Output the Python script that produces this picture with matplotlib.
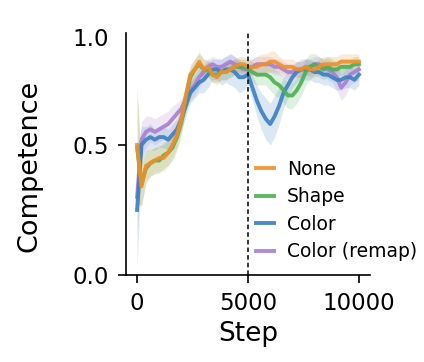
import matplotlib
matplotlib.use("Agg")
import matplotlib.pyplot as plt
import numpy as np

steps = list(range(0, 10001, 200))

none_mean = [0.50, 0.34, 0.42, 0.43, 0.44, 0.45, 0.45, 0.47, 0.50, 0.54,
             0.60, 0.69, 0.77, 0.79, 0.82, 0.79, 0.80, 0.77, 0.76, 0.78,
             0.78, 0.79, 0.80, 0.81, 0.81, 0.80, 0.80, 0.80, 0.81, 0.81,
             0.82, 0.82, 0.81, 0.80, 0.80, 0.80, 0.79, 0.79, 0.80, 0.79,
             0.79, 0.80, 0.81, 0.81, 0.81, 0.81, 0.82, 0.82, 0.82, 0.82, 0.82]
shape_mean = [0.49, 0.35, 0.41, 0.43, 0.44, 0.44, 0.46, 0.47, 0.49, 0.53,
              0.59, 0.68, 0.76, 0.79, 0.81, 0.79, 0.79, 0.77, 0.77, 0.78,
              0.78, 0.79, 0.80, 0.80, 0.80, 0.79, 0.78, 0.77, 0.77, 0.77,
              0.76, 0.74, 0.73, 0.71, 0.69, 0.69, 0.71, 0.74, 0.78, 0.80,
              0.81, 0.80, 0.79, 0.80, 0.79, 0.79, 0.80, 0.80, 0.80, 0.81, 0.81]
color_mean = [0.25, 0.50, 0.52, 0.53, 0.52, 0.53, 0.53, 0.52, 0.54, 0.56,
              0.60, 0.65, 0.70, 0.72, 0.74, 0.75, 0.77, 0.79, 0.79, 0.78,
              0.79, 0.79, 0.78, 0.76, 0.76, 0.77, 0.72, 0.67, 0.63, 0.60,
              0.58, 0.61, 0.65, 0.70, 0.73, 0.76, 0.78, 0.79, 0.79, 0.79,
              0.78, 0.78, 0.77, 0.77, 0.76, 0.75, 0.75, 0.76, 0.76, 0.75, 0.77]
remap_mean = [0.30, 0.52, 0.55, 0.56, 0.55, 0.56, 0.57, 0.58, 0.60, 0.62,
              0.64, 0.68, 0.71, 0.73, 0.76, 0.78, 0.80, 0.81, 0.80, 0.80,
              0.81, 0.82, 0.81, 0.80, 0.79, 0.79, 0.80, 0.81, 0.81, 0.81,
              0.81, 0.80, 0.80, 0.79, 0.78, 0.78, 0.79, 0.79, 0.80, 0.80,
              0.81, 0.81, 0.80, 0.79, 0.78, 0.76, 0.72, 0.74, 0.77, 0.78, 0.79]

none_err = [0.22, 0.08, 0.06, 0.05, 0.05, 0.05, 0.05, 0.05, 0.05, 0.05,
            0.05, 0.05, 0.04, 0.04, 0.04, 0.04, 0.03, 0.03, 0.03, 0.03,
            0.03, 0.03, 0.03, 0.03, 0.03, 0.03, 0.03, 0.04, 0.04, 0.04,
            0.04, 0.04, 0.03, 0.03, 0.03, 0.03, 0.03, 0.03, 0.03, 0.03,
            0.03, 0.03, 0.03, 0.03, 0.03, 0.03, 0.03, 0.03, 0.03, 0.03, 0.03]
shape_err = [0.22, 0.08, 0.06, 0.05, 0.05, 0.05, 0.05, 0.05, 0.05, 0.05,
             0.05, 0.05, 0.04, 0.04, 0.04, 0.04, 0.03, 0.03, 0.03, 0.03,
             0.03, 0.03, 0.03, 0.03, 0.03, 0.04, 0.04, 0.04, 0.04, 0.04,
             0.05, 0.05, 0.05, 0.05, 0.05, 0.05, 0.05, 0.05, 0.05, 0.05,
             0.04, 0.04, 0.04, 0.04, 0.04, 0.03, 0.03, 0.03, 0.03, 0.03, 0.03]
color_err = [0.22, 0.07, 0.05, 0.05, 0.04, 0.04, 0.04, 0.04, 0.04, 0.04,
             0.04, 0.04, 0.04, 0.04, 0.04, 0.05, 0.05, 0.04, 0.04, 0.05,
             0.05, 0.06, 0.06, 0.06, 0.05, 0.04, 0.05, 0.06, 0.07, 0.08,
             0.08, 0.08, 0.07, 0.06, 0.05, 0.04, 0.04, 0.04, 0.04, 0.04,
             0.04, 0.04, 0.04, 0.04, 0.04, 0.04, 0.04, 0.04, 0.04, 0.04, 0.04]
remap_err = [0.15, 0.07, 0.06, 0.05, 0.05, 0.05, 0.05, 0.05, 0.05, 0.04,
             0.04, 0.04, 0.04, 0.04, 0.04, 0.03, 0.03, 0.03, 0.03, 0.03,
             0.03, 0.03, 0.03, 0.03, 0.03, 0.03, 0.03, 0.03, 0.03, 0.03,
             0.03, 0.03, 0.03, 0.03, 0.03, 0.03, 0.03, 0.03, 0.03, 0.03,
             0.03, 0.03, 0.03, 0.04, 0.04, 0.05, 0.05, 0.05, 0.04, 0.04, 0.04]

labels = ["None", "Shape", "Color", "Color (remap)"]
colors = ["#f28e2b", "#4caf50", "#3a7fc1", "#a77fd2"]
means = [none_mean, shape_mean, color_mean, remap_mean]
errs = [none_err, shape_err, color_err, remap_err]
zorders = [5, 4, 3, 2]

fig = plt.figure(figsize=(4.24, 3.62), dpi=100)
ax = fig.add_axes([126/424, 1-275/362, (370-126)/424, (275-33)/362])

x = np.array(steps)
handles = {}
for lab, c, m, e, z in zip(labels, colors, means, errs, zorders):
    m = np.array(m); e = np.array(e)
    ax.fill_between(x, m - e, m + e, color=c, alpha=0.18, lw=0, zorder=1)
    h, = ax.plot(x, m, color=c, lw=2.8, alpha=0.9, zorder=z, label=lab)
    handles[lab] = h

ax.axvline(5000, color="black", lw=1.1, ls=(0, (3, 2)), zorder=6)

ax.set_xlim(-500, 10500)
ax.set_ylim(0, 0.93)
ax.set_xticks([0, 5000, 10000])
ax.set_yticks([0, 0.5])
ax.set_yticklabels(["0.0", "0.5"])
ax.tick_params(labelsize=16.5, length=6, width=1.2, pad=6)
for s in ["top", "right"]:
    ax.spines[s].set_visible(False)
for s in ["left", "bottom"]:
    ax.spines[s].set_linewidth(1.2)

fig.text(109/424, 1-40/362, "1.0", ha="right", va="center", fontsize=16.5)
fig.text(30/424, 1-166/362, "Competence", rotation=90, ha="center", va="center", fontsize=19.5)
fig.text(248/424, 1-334/362, "Step", ha="center", va="center", fontsize=19)

leg = fig.legend([handles[l] for l in labels], labels, loc="upper left",
                 bbox_to_anchor=(256/424, 1-160/362), frameon=False,
                 fontsize=13.5, handlelength=0.95, handletextpad=0.7,
                 labelspacing=0.45, borderpad=0, borderaxespad=0)
for lh in leg.get_lines():
    lh.set_linewidth(2.8)

fig.savefig("out.png", dpi=100)
